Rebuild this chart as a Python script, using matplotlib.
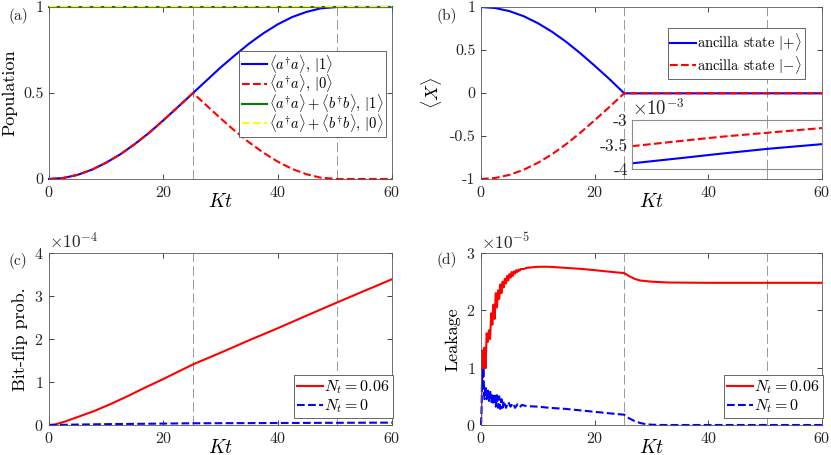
import numpy as np
import matplotlib
matplotlib.use('Agg')
import matplotlib.pyplot as plt

plt.rcParams['font.family'] = 'serif'
plt.rcParams['font.serif'] = ['cmr10']
plt.rcParams['mathtext.fontset'] = 'cm'
plt.rcParams['axes.formatter.use_mathtext'] = True
plt.rcParams['axes.unicode_minus'] = False

# gate times (vertical guides)
t_marks = [25.2, 50.4]

# (a) population
t_a = [0, 2.5, 5, 7.5, 10, 12.5, 15, 17.5, 20, 22.5, 25.2, 27.5, 30, 32.5,
       35, 37.5, 40, 42.5, 45, 47.5, 50.4, 52.5, 55, 57.5, 60]
pop_1 = [0, 0.006, 0.024, 0.054, 0.095, 0.144, 0.203, 0.268, 0.341, 0.417, 0.5,
         0.571, 0.648, 0.719, 0.787, 0.847, 0.899, 0.941, 0.971, 0.992, 1.0,
         1.0, 1.0, 1.0, 1.0]
pop_0 = [0, 0.006, 0.024, 0.054, 0.095, 0.144, 0.203, 0.268, 0.341, 0.417, 0.5,
         0.429, 0.353, 0.280, 0.213, 0.153, 0.101, 0.059, 0.028, 0.008, 0,
         0, 0, 0, 0]
tot_1 = [1.0] * len(t_a)
tot_0 = [1.0] * len(t_a)

# (b) <X>
t_b = [0, 2.5, 5, 7.5, 10, 12.5, 15, 17.5, 20, 22.5, 25.2, 26.6, 40, 50.4, 60]
x_plus = [1, 0.988, 0.952, 0.893, 0.812, 0.712, 0.594, 0.461, 0.317, 0.168,
          -0.0039, -0.00388, -0.0037, -0.00359, -0.00349]
x_minus = [-1, -0.988, -0.952, -0.893, -0.812, -0.712, -0.594, -0.461, -0.317,
           -0.168, -0.0036, -0.00353, -0.0034, -0.00326, -0.00316]
t_ins = [26.6, 35, 42, 50.4, 60]
x_plus_ins = [-3.884e-3, -3.78e-3, -3.69e-3, -3.589e-3, -3.493e-3]
x_minus_ins = [-3.534e-3, -3.43e-3, -3.345e-3, -3.26e-3, -3.164e-3]

# (c) bit-flip probability
t_c = [0, 1, 2.8, 5.1, 8, 11, 13.9, 16.8, 19.7, 22.6, 25.2, 30, 35, 40, 45,
       50.4, 55, 60]
flip_nt = [0, 0.01e-4, 0.08e-4, 0.19e-4, 0.33e-4, 0.5e-4, 0.68e-4, 0.87e-4,
           1.05e-4, 1.24e-4, 1.41e-4, 1.68e-4, 1.97e-4, 2.25e-4, 2.54e-4,
           2.85e-4, 3.11e-4, 3.39e-4]
t_c0 = [0, 10, 25.2, 60]
flip_0 = [0, 0.02e-4, 0.04e-4, 0.055e-4]

# (d) leakage (x1e-5)
t_d_red = [0, 0.2, 0.4, 0.6, 0.8, 1.0, 1.2, 1.4, 1.6, 1.8, 2.0, 2.2, 2.4, 2.6,
           2.8, 3.0, 3.2, 3.4, 3.6, 3.8, 4.0, 4.2, 4.4, 4.6, 4.8, 5.0, 5.2,
           5.4, 5.6, 5.8, 6.0, 6.2, 6.4, 6.6, 6.8, 7.0, 7.5, 8, 9, 10, 12, 15,
           18, 21, 24, 25.2, 26, 27, 28, 30, 33, 40, 60]
leak_nt = [0, 1.3, 0.85, 1.35, 1.0, 1.6, 1.45, 1.65, 1.5, 1.95, 1.75, 2.1,
           1.85, 2.3, 2.05, 2.35, 2.2, 2.45, 2.3, 2.5, 2.4, 2.55, 2.47, 2.6,
           2.52, 2.63, 2.57, 2.67, 2.6, 2.68, 2.64, 2.7, 2.67, 2.71, 2.69,
           2.72, 2.72, 2.74, 2.75, 2.76, 2.76, 2.74, 2.72, 2.69, 2.66, 2.65,
           2.6, 2.55, 2.52, 2.5, 2.485, 2.48, 2.48]
t_d_blue = [0, 0.1, 0.2, 0.3, 0.4, 0.6, 0.8, 1.0, 1.2, 1.4, 1.6, 1.8, 2.0, 2.2,
            2.4, 2.6, 2.8, 3.0, 3.2, 3.4, 3.6, 3.8, 4.0, 4.4, 4.8, 5.2, 5.6,
            6.0, 6.4, 6.8, 7.2, 8, 10, 12, 15, 18, 21, 24, 25.2, 26, 27, 28,
            29, 30, 32, 60]
leak_0 = [0, 0.3, 0.95, 0.6, 1.0, 0.45, 0.68, 0.45, 0.62, 0.42, 0.6, 0.4, 0.55,
          0.35, 0.55, 0.32, 0.52, 0.3, 0.5, 0.28, 0.45, 0.3, 0.42, 0.3, 0.4,
          0.32, 0.38, 0.3, 0.36, 0.31, 0.35, 0.33, 0.32, 0.3, 0.28, 0.25, 0.22,
          0.19, 0.18, 0.12, 0.07, 0.035, 0.015, 0.005, 0, 0]

lw = 1.5
edge = '0.35'


def style(ax, xlab=True):
    ax.set_xlim(0, 60)
    ax.set_xticks([0, 20, 40, 60])
    ax.tick_params(direction='in', top=True, right=True, length=3.5,
                   width=0.6, labelsize=11.5, colors='0.15', pad=4)
    for s in ax.spines.values():
        s.set_color(edge)
        s.set_linewidth(0.6)
    for tm in t_marks:
        ax.axvline(tm, color='0.6', lw=0.7, ls=(0, (10, 4)), zorder=1)
    if xlab:
        ax.set_xlabel('$Kt$', fontsize=14, labelpad=-4.5)


def leg(ax, pad=0.3, fs=10.5, hl=1.75, sp=-0.1, **kw):
    lg = ax.legend(fontsize=fs, fancybox=False, framealpha=1, handlelength=hl,
                   handletextpad=0.1, borderpad=0.2, labelspacing=sp,
                   borderaxespad=pad, **kw)
    lg.get_frame().set_edgecolor('0.3')
    lg.get_frame().set_linewidth(0.6)
    return lg


fig = plt.figure(figsize=(8.31, 4.55), dpi=100)
w = 343 / 831
h = 172 / 455
ax_a = fig.add_axes([49 / 831, 1 - 179 / 455, w, h])
ax_b = fig.add_axes([481 / 831, 1 - 179 / 455, 341 / 831, h])
ax_c = fig.add_axes([49 / 831, 1 - 425 / 455, w, h])
ax_d = fig.add_axes([481 / 831, 1 - 425 / 455, 341 / 831, h])

# (a)
style(ax_a)
ax_a.plot(t_a, pop_1, color='blue', lw=lw, label=r'$\langle a^{\dagger}a\rangle$, $|1\rangle$', clip_on=False)
ax_a.plot(t_a, pop_0, color='red', lw=lw, ls='--', label=r'$\langle a^{\dagger}a\rangle$, $|0\rangle$', clip_on=False)
ax_a.plot(t_a, tot_1, color='#008000', lw=lw, label=r'$\langle a^{\dagger}a\rangle+\langle b^{\dagger}b\rangle$, $|1\rangle$', clip_on=False)
ax_a.plot(t_a, tot_0, color='yellow', lw=lw, ls='--', label=r'$\langle a^{\dagger}a\rangle+\langle b^{\dagger}b\rangle$, $|0\rangle$', clip_on=False)
ax_a.set_ylim(0, 1)
ax_a.set_yticks([0, 0.5, 1], ['0', '0.5', '1'])
ax_a.set_ylabel('Population', fontsize=13)
leg(ax_a, pad=0, loc='center right', bbox_to_anchor=(0.983, 0.497))

# (b)
style(ax_b)
ax_b.plot(t_b, x_plus, color='blue', lw=lw, label=r'ancilla state $|{+}\rangle$')
ax_b.plot(t_b, x_minus, color='red', lw=lw, ls='--', label=r'ancilla state $|{-}\rangle$')
ax_b.set_ylim(-1, 1)
ax_b.set_yticks([-1, -0.5, 0, 0.5, 1], ['-1', '-0.5', '0', '0.5', '1'])
ax_b.set_ylabel(r'$\langle X\rangle$', fontsize=13)
leg(ax_b, pad=0, sp=0.05, loc='upper right', bbox_to_anchor=(0.95, 0.878))

ins = fig.add_axes([632 / 831, 1 - 169 / 455, 190 / 831, 49 / 455])
ins.plot(t_ins, x_plus_ins, color='blue', lw=lw)
ins.plot(t_ins, x_minus_ins, color='red', lw=lw, ls='--')
ins.axvline(t_marks[1], color='0.6', lw=0.7, ls=(0, (10, 4)), zorder=1)
ins.set_xlim(26.6, 60)
ins.set_ylim(-4e-3, -3e-3)
ins.set_xticks([])
ins.set_yticks([-4e-3, -3.5e-3, -3e-3], ['-4', '-3.5', '-3'])
ins.tick_params(direction='in', length=2, width=0.6, labelsize=12.5,
                colors='0.15', pad=3)
for s in ins.spines.values():
    s.set_color('0.55')
    s.set_linewidth(0.8)
ins.text(0.0, 1.03, r'$\times10^{-3}$', transform=ins.transAxes,
         fontsize=13.5, color='0.15', ha='left', va='bottom')

# (c)
style(ax_c)
ax_c.plot(t_c, flip_nt, color='red', lw=lw, label='$N_t=0.06$')
ax_c.plot(t_c0, flip_0, color='blue', lw=lw, ls='--', label='$N_t=0$', clip_on=False)
ax_c.set_ylim(0, 4e-4)
ax_c.set_yticks([0, 1e-4, 2e-4, 3e-4, 4e-4])
ax_c.ticklabel_format(axis='y', style='sci', scilimits=(0, 0), useMathText=True)
ax_c.yaxis.get_offset_text().set_fontsize(12.5)
ax_c.yaxis.get_offset_text().set_color('0.15')
ax_c.set_ylabel('Bit-flip prob.', fontsize=13)
leg(ax_c, pad=0, fs=11.5, hl=1.6, sp=0.05, loc='lower right', bbox_to_anchor=(1.003, 0.04))

# (d)
style(ax_d)
ax_d.plot(t_d_red, np.array(leak_nt) * 1e-5, color='red', lw=lw, label='$N_t=0.06$')
ax_d.plot(t_d_blue, np.array(leak_0) * 1e-5, color='blue', lw=lw, ls='--', label='$N_t=0$', clip_on=False)
ax_d.set_ylim(0, 3e-5)
ax_d.set_yticks([0, 1e-5, 2e-5, 3e-5])
ax_d.ticklabel_format(axis='y', style='sci', scilimits=(0, 0), useMathText=True)
ax_d.yaxis.get_offset_text().set_fontsize(12.5)
ax_d.yaxis.get_offset_text().set_color('0.15')
ax_d.set_ylabel('Leakage', fontsize=13)
leg(ax_d, pad=0, fs=11.5, hl=1.6, sp=0.05, loc='lower right', bbox_to_anchor=(1.003, 0.04))

for lab, x, y in [('(a)', 8, 15.5), ('(b)', 437, 15.5), ('(c)', 8, 261), ('(d)', 437, 260)]:
    fig.text(x / 831, 1 - y / 455, lab, fontsize=11, color='0.15', ha='left', va='center')

fig.savefig('out.png', dpi=100)
